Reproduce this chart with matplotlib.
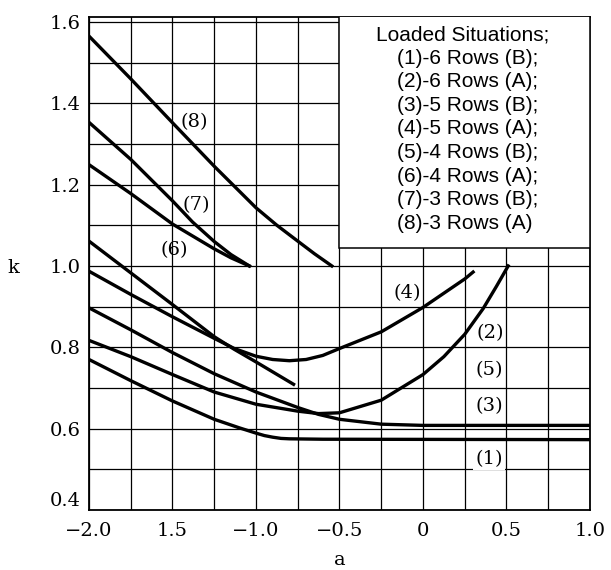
import numpy as np
import matplotlib.pyplot as plt
from matplotlib.patches import Rectangle

# k against a for the eight loaded situations, read point by point
a_1 = [-2.0, -1.75, -1.5, -1.25, -1.1, -1.0, -0.95, -0.9, -0.85, -0.8, -0.6, 1.0]
k_1 = [0.770, 0.718, 0.668, 0.623, 0.602, 0.589, 0.583, 0.579, 0.576, 0.575, 0.574, 0.573]

a_2 = [-2.0, -1.75, -1.5, -1.25, -1.0, -0.75, -0.625, -0.5, -0.25, 0.0, 0.125, 0.25, 0.36, 0.44, 0.51]
k_2 = [0.817, 0.777, 0.733, 0.690, 0.660, 0.643, 0.637, 0.639, 0.670, 0.733, 0.777, 0.832, 0.895, 0.950, 1.0]

a_3 = [-2.0, -1.75, -1.5, -1.25, -1.0, -0.75, -0.625, -0.5, -0.25, 0.0, 1.0]
k_3 = [0.897, 0.843, 0.787, 0.735, 0.690, 0.652, 0.635, 0.623, 0.611, 0.608, 0.608]

a_4 = [-2.0, -1.75, -1.5, -1.25, -1.13, -1.0, -0.9, -0.8, -0.7, -0.6, -0.5, -0.25, 0.0, 0.25, 0.30]
k_4 = [0.987, 0.930, 0.875, 0.822, 0.797, 0.778, 0.770, 0.767, 0.770, 0.780, 0.797, 0.838, 0.898, 0.968, 0.985]

a_5 = [-2.0, -1.75, -1.5, -1.25, -1.13, -1.0, -0.775]
k_5 = [1.061, 0.983, 0.905, 0.826, 0.795, 0.764, 0.709]

a_6 = [-2.0, -1.75, -1.5, -1.25, -1.15, -1.04]
k_6 = [1.249, 1.178, 1.103, 1.042, 1.020, 1.0]

a_7 = [-2.0, -1.75, -1.5, -1.38, -1.25, -1.15, -1.04]
k_7 = [1.353, 1.262, 1.160, 1.108, 1.060, 1.028, 1.0]

a_8 = [-2.0, -1.75, -1.5, -1.25, -1.0, -0.875, -0.75, -0.65, -0.546]
k_8 = [1.565, 1.460, 1.352, 1.245, 1.143, 1.100, 1.061, 1.030, 1.0]

curves = [(a_1, k_1), (a_2, k_2), (a_3, k_3), (a_4, k_4),
          (a_5, k_5), (a_6, k_6), (a_7, k_7), (a_8, k_8)]

# curve tags and where they sit
tags = ['(1)', '(2)', '(3)', '(4)', '(5)', '(6)', '(7)', '(8)']
tag_a = [0.394, 0.40, 0.40, -0.093, 0.394, -1.488, -1.355, -1.371]
tag_k = [0.526, 0.834, 0.655, 0.934, 0.745, 1.040, 1.150, 1.354]

key_title = 'Loaded Situations;'
key_lines = ['(1)-6 Rows (B);', '(2)-6 Rows (A);', '(3)-5 Rows (B);',
             '(4)-5 Rows (A);', '(5)-4 Rows (B);', '(6)-4 Rows (A);',
             '(7)-3 Rows (B);', '(8)-3 Rows (A)']

x_ticks = [-2.0, -1.5, -1.0, -0.5, 0.0, 0.5, 1.0]
x_ticklabels = ['\u22122.0', '1.5', '\u22121.0', '\u22120.5', '0', '0.5', '1.0']
y_ticks = [0.4, 0.6, 0.8, 1.0, 1.2, 1.4, 1.6]
y_ticklabels = ['0.4', '0.6', '0.8', '1.0', '1.2', '1.4', '1.6']

serif = 'DejaVu Serif'
sans = 'Liberation Sans'

fig = plt.figure(figsize=(6.11, 5.70), dpi=100)
ax = fig.add_axes([89/611, 1-510/570, 501/611, 493/570])

ax.set_xlim(-2.0, 1.0)
ax.set_ylim(0.40, 1.612)
ax.set_xticks(x_ticks)
ax.set_xticks(np.arange(-2.0, 1.01, 0.25), minor=True)
ax.set_yticks(y_ticks)
ax.set_yticks(np.arange(0.4, 1.61, 0.1), minor=True)
ax.set_xticklabels(x_ticklabels, fontfamily=serif, fontsize=14)
ax.set_yticklabels(y_ticklabels, fontfamily=serif, fontsize=14)
ax.tick_params(which='both', length=0)
ax.tick_params(axis='x', pad=9)
ax.tick_params(axis='y', pad=6)
ax.grid(which='both', color='black', linewidth=0.9)
ax.set_axisbelow(True)
for side in ax.spines.values():
    side.set_linewidth(1.3)
ax.get_yticklabels()[0].set_verticalalignment('bottom')

for a_vals, k_vals in curves:
    ax.plot(a_vals, k_vals, color='black', linewidth=2.4, zorder=2)

for i, tag in enumerate(tags):
    bbox = None
    if tag == '(1)':
        bbox = dict(facecolor='white', edgecolor='none', pad=1.5)
    ax.text(tag_a[i], tag_k[i], tag, fontfamily=serif, fontsize=14,
            ha='center', va='center', bbox=bbox, zorder=4)

# key box in the upper right corner
ax.add_patch(Rectangle((-0.5, 1.045), 1.5, 0.6, facecolor='white',
                       edgecolor='black', linewidth=1.1, zorder=3))
ax.text(0.573, 0.9635, key_title, transform=ax.transAxes, fontfamily=sans,
        fontsize=15, ha='left', va='center', zorder=5)
for i, line in enumerate(key_lines):
    ax.text(0.614, 0.9635 - 0.04767*(i + 1), line, transform=ax.transAxes,
            fontfamily=sans, fontsize=15, ha='left', va='center', zorder=5)

fig.text(13/611, 1-268/570, 'k', fontfamily=serif, fontsize=14, ha='center', va='center')
fig.text(340/611, 1-560/570, 'a', fontfamily=serif, fontsize=14, ha='center', va='center')

plt.savefig('out.png', dpi=100)
plt.close()
